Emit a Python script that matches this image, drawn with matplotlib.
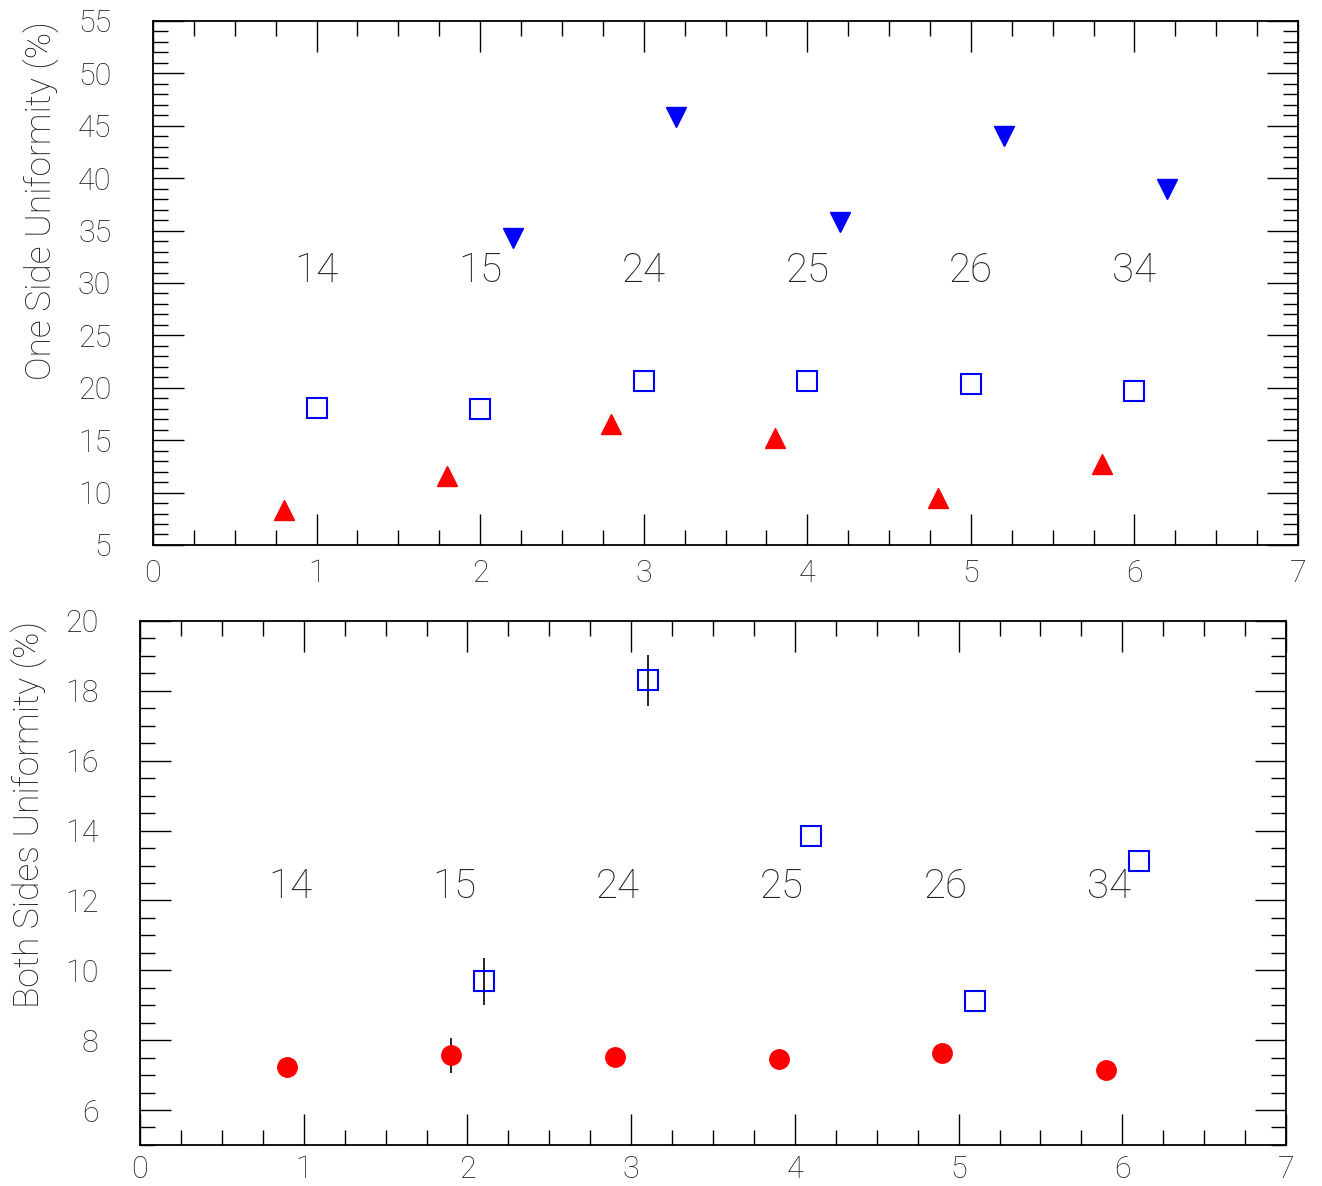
import matplotlib.pyplot as plt
from matplotlib.ticker import MultipleLocator

# top panel: one side uniformity
x_top_down = [2.2, 3.2, 4.2, 5.2, 6.2]
y_top_down = [34.3, 45.8, 35.8, 44.0, 39.0]
x_top_sq = [1, 2, 3, 4, 5, 6]
y_top_sq = [18.1, 18.0, 20.6, 20.6, 20.4, 19.7]
x_top_up = [0.8, 1.8, 2.8, 3.8, 4.8, 5.8]
y_top_up = [8.3, 11.6, 16.5, 15.2, 9.5, 12.7]

# bottom panel: both sides uniformity
x_bot_sq = [2.1, 3.1, 4.1, 5.1, 6.1]
y_bot_sq = [9.69, 18.31, 13.84, 9.12, 13.13]
e_bot_sq = [0.67, 0.73, 0, 0, 0]
x_bot_c = [0.9, 1.9, 2.9, 3.9, 4.9, 5.9]
y_bot_c = [7.23, 7.57, 7.52, 7.46, 7.63, 7.15]
e_bot_c = [0, 0.5, 0, 0, 0, 0]

labels = ['14', '15', '24', '25', '26', '34']
lab_x_top = [1, 2, 3, 4, 5, 6]
lab_x_bot = [0.92, 1.92, 2.92, 3.92, 4.92, 5.92]

plt.rcParams['font.family'] = ['Roboto', 'DejaVu Sans']
plt.rcParams['font.weight'] = 'light'
plt.rcParams['axes.labelweight'] = 'light'

fig = plt.figure(figsize=(13.22, 11.86), dpi=100)
ax1 = fig.add_axes([0.1157, 0.5405, 0.8662, 0.4418])
ax2 = fig.add_axes([0.1059, 0.0346, 0.8669, 0.4418])


def style(ax, ymaj, ymin):
    ax.xaxis.set_major_locator(MultipleLocator(1))
    ax.xaxis.set_minor_locator(MultipleLocator(0.25))
    ax.yaxis.set_major_locator(MultipleLocator(ymaj))
    ax.yaxis.set_minor_locator(MultipleLocator(ymin))
    ax.tick_params(which='both', direction='in', top=True, right=True,
                   labelsize=22, width=1, color='black', labelcolor='#222222')
    ax.tick_params(which='major', length=22)
    ax.tick_params(which='minor', length=11)
    ax.tick_params(axis='x', which='major', pad=10)
    ax.tick_params(axis='y', which='major', pad=30)
    for s in ax.spines.values():
        s.set_linewidth(1.3)


ax1.plot(x_top_down, y_top_down, 'v', color='blue', ms=14, ls='none')
ax1.plot(x_top_sq, y_top_sq, 's', mfc='none', mec='blue', mew=1.5, ms=14, ls='none')
ax1.plot(x_top_up, y_top_up, '^', color='red', ms=14, ls='none')
for lx, lb in zip(lab_x_top, labels):
    ax1.text(lx, 31.2, lb, ha='center', va='center', fontsize=29,
             color='#222222')
ax1.set_xlim(0, 7)
ax1.set_ylim(5, 55)
style(ax1, 5, 1)
ax1.set_ylabel('One Side Uniformity (%)', loc='top', fontsize=25.5,
               color='#222222', fontweight='light')
ax1.yaxis.set_label_coords(-0.081, 1.0)

ax2.errorbar(x_bot_sq, y_bot_sq, yerr=e_bot_sq, fmt='s', mfc='none', mec='blue',
             mew=1.5, ms=14, ecolor='black', elinewidth=1.2, capsize=0)
ax2.errorbar(x_bot_c, y_bot_c, yerr=e_bot_c, fmt='o', color='red', ms=14,
             ecolor='black', elinewidth=1.2, capsize=0, zorder=1)
for lx, lb in zip(lab_x_bot, labels):
    ax2.text(lx, 12.4, lb, ha='center', va='center', fontsize=29,
             color='#222222')
ax2.set_xlim(0, 7)
ax2.set_ylim(5, 20)
style(ax2, 2, 0.5)
ax2.tick_params(axis='x', which='major', pad=7)
ax2.set_ylabel('Both Sides Uniformity (%)', loc='top', fontsize=25.5,
               color='#222222', fontweight='light')
ax2.yaxis.set_label_coords(-0.080, 1.0)

plt.savefig('out.png', dpi=100)
